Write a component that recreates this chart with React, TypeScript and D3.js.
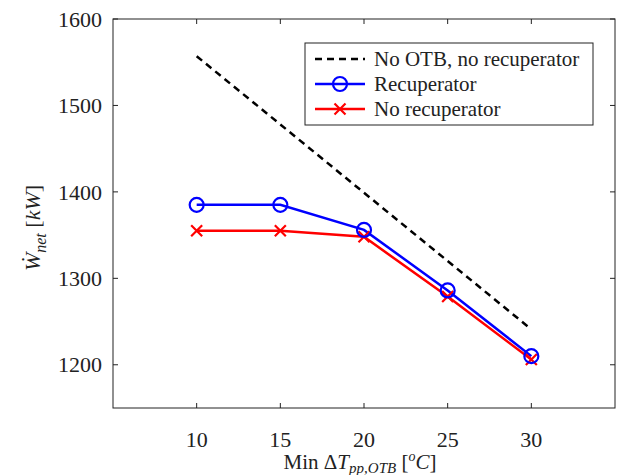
import { useEffect, useRef } from 'react'
import * as d3 from 'd3'

const xTicks = [10, 15, 20, 25, 30]
const yTicks = [1200, 1300, 1400, 1500, 1600]
const dtMin = [10, 15, 20, 25, 30]
const noOtb = [1557, 1478, 1399, 1320, 1241]
const recup = [1385, 1385, 1356, 1286, 1210]
const noRecup = [1355, 1355, 1348, 1279, 1206]
const legendLabels = ['No OTB, no recuperator', 'Recuperator', 'No recuperator']

const FONT = 'Liberation Serif, DejaVu Serif, serif'

export default function App() {
  const ref = useRef<SVGSVGElement>(null)

  useEffect(() => {
    const svg = d3.select(ref.current)
    svg.selectAll('*').remove()
    const W = 617, H = 475
    const m = { left: 113, top: 19, right: 2, bottom: 67 }
    const x = d3.scaleLinear().domain([5, 35]).range([m.left, W - m.right])
    const y = d3.scaleLinear().domain([1150, 1600]).range([H - m.bottom, m.top])
    const x0 = x.range()[0], x1 = x.range()[1]
    const yb = y.range()[0], yt = y.range()[1]

    svg.append('rect').attr('width', W).attr('height', H).attr('fill', '#fff')

    // box + ticks
    const ax = svg.append('g').attr('stroke', '#222').attr('stroke-width', 1).attr('fill', 'none')
    ax.append('rect').attr('x', x0).attr('y', yt).attr('width', x1 - x0).attr('height', yb - yt)
    const tl = 5
    xTicks.forEach(t => {
      ax.append('line').attr('x1', x(t)).attr('x2', x(t)).attr('y1', yb).attr('y2', yb - tl)
      ax.append('line').attr('x1', x(t)).attr('x2', x(t)).attr('y1', yt).attr('y2', yt + tl)
    })
    yTicks.forEach(t => {
      ax.append('line').attr('x1', x0).attr('x2', x0 + tl).attr('y1', y(t)).attr('y2', y(t))
      ax.append('line').attr('x1', x1).attr('x2', x1 - tl).attr('y1', y(t)).attr('y2', y(t))
    })

    const txt = svg.append('g').attr('font-family', FONT).attr('fill', '#222').attr('font-size', 22)
    xTicks.forEach(t => {
      txt.append('text').attr('x', x(t)).attr('y', 447).attr('text-anchor', 'middle').text(t)
    })
    yTicks.forEach(t => {
      txt.append('text').attr('x', 102).attr('y', y(t)).attr('dy', '0.35em')
        .attr('text-anchor', 'end').text(t)
    })

    // x label
    const xl = txt.append('text').attr('x', 360).attr('y', 469).attr('font-size', 21)
      .attr('text-anchor', 'middle')
    xl.append('tspan').text('Min Δ')
    xl.append('tspan').attr('font-style', 'italic').text('T')
    xl.append('tspan').attr('font-style', 'italic').attr('font-size', 15).attr('dy', 4).text('pp,OTB')
    xl.append('tspan').attr('dy', -4).text(' [')
    xl.append('tspan').attr('font-style', 'italic').attr('font-size', 14).attr('dy', -8).text('o')
    xl.append('tspan').attr('font-style', 'italic').attr('dy', 8).text('C')
    xl.append('tspan').text(']')

    // y label
    const yl = txt.append('text').attr('transform', `translate(40,228) rotate(-90)`).attr('text-anchor', 'middle')
    yl.append('tspan').attr('font-style', 'italic').text('Ẇ')
    yl.append('tspan').attr('font-style', 'italic').attr('font-size', 16).attr('dy', 6).text('net')
    yl.append('tspan').attr('dy', -6).text(' [')
    yl.append('tspan').attr('font-style', 'italic').text('kW')
    yl.append('tspan').text(']')

    const line = d3.line<number>().x((_, i) => x(dtMin[i])).y(d => y(d))
    const plot = svg.append('g').attr('fill', 'none')
    plot.append('path').attr('d', line(noOtb)).attr('stroke', '#000').attr('stroke-width', 2.5)
      .attr('stroke-dasharray', '7,5')
    plot.append('path').attr('d', line(noRecup)).attr('stroke', '#ff0000').attr('stroke-width', 2.5)
    plot.append('path').attr('d', line(recup)).attr('stroke', '#0000ff').attr('stroke-width', 2.5)

    const cross = (g: any, cx: number, cy: number, s: number) => {
      g.append('path').attr('d', `M${cx - s},${cy - s}L${cx + s},${cy + s}M${cx - s},${cy + s}L${cx + s},${cy - s}`)
        .attr('stroke', '#ff0000').attr('stroke-width', 2.2)
    }
    noRecup.forEach((v, i) => cross(plot, x(dtMin[i]), y(v), 5.5))
    recup.forEach((v, i) => {
      plot.append('circle').attr('cx', x(dtMin[i])).attr('cy', y(v)).attr('r', 7)
        .attr('stroke', '#0000ff').attr('stroke-width', 2.2)
    })

    // legend
    const lg = svg.append('g')
    lg.append('rect').attr('x', 305).attr('y', 43).attr('width', 288).attr('height', 82)
      .attr('fill', '#fff').attr('stroke', '#222').attr('stroke-width', 1)
    const rows = [59, 84, 109]
    lg.append('line').attr('x1', 315).attr('x2', 365).attr('y1', rows[0]).attr('y2', rows[0])
      .attr('stroke', '#000').attr('stroke-width', 2.5).attr('stroke-dasharray', '7,5')
    lg.append('line').attr('x1', 315).attr('x2', 365).attr('y1', rows[1]).attr('y2', rows[1])
      .attr('stroke', '#0000ff').attr('stroke-width', 2.5)
    lg.append('circle').attr('cx', 340).attr('cy', rows[1]).attr('r', 7).attr('fill', 'none')
      .attr('stroke', '#0000ff').attr('stroke-width', 2.2)
    lg.append('line').attr('x1', 315).attr('x2', 365).attr('y1', rows[2]).attr('y2', rows[2])
      .attr('stroke', '#ff0000').attr('stroke-width', 2.5)
    cross(lg, 340, rows[2], 5.5)
    legendLabels.forEach((l, i) => {
      lg.append('text').attr('x', 374).attr('y', rows[i]).attr('dy', '0.35em')
        .attr('font-family', FONT).attr('font-size', 21).attr('fill', '#222').text(l)
    })
  }, [])

  return (
    <svg ref={ref} width={617} height={475} style={{ position: 'absolute', left: 0, top: 0 }} />
  )
}
